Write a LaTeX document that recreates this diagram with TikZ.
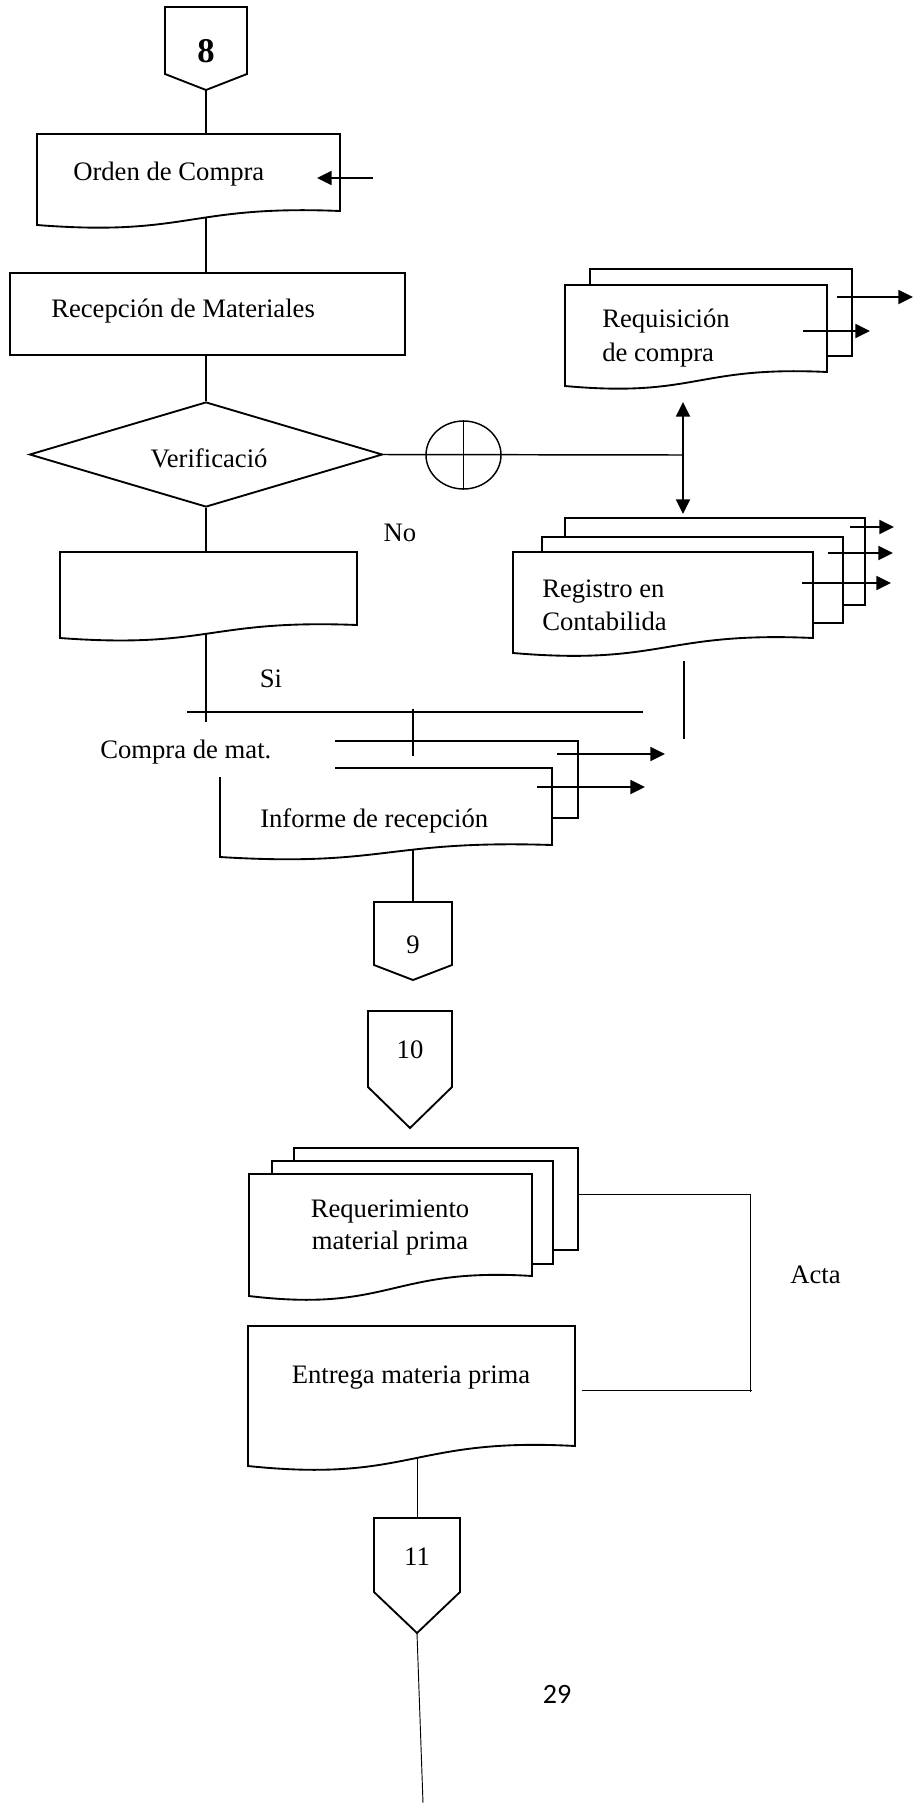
\documentclass[tikz,border=0pt]{standalone}
\usepackage{fontspec}
\setmainfont{Liberation Serif}
\newfontfamily\pagefont{Carlito}
\usetikzlibrary{positioning,fit,arrows.meta,backgrounds,shapes.geometric}

% document sheet with a wavy bottom: name, left, top, right, right bottom, left bottom
\newcommand{\docu}[6]{%
  \draw[shapeline,fill=white] (#2,#6) -- (#2,#3) -- (#4,#3) -- (#4,#5)
    .. controls ({(#2+#4)/2},{#5-0.45*(#6-#5)}) and ({(#2+#4)/2},{#6+0.85*(#6-#5)}) .. (#2,#6) -- cycle;
  \node[fit={(#2,#3) (#4,#5)},inner sep=0pt] (#1) {};
}
% off-page connector: name, left, right, top, side, tip, baseline, text
\newcommand{\offpage}[8]{%
  \draw[shapeline,fill=white] (#2,#4) -- (#3,#4) -- (#3,#5) -- ({(#2+#3)/2},#6) -- (#2,#5) -- cycle;
  \node[fit={(#2,#4) (#3,#6)},inner sep=0pt] (#1) {};
  \node[lbl,anchor=base] (#1t) at ({(#2+#3)/2},#7) {#8};
}

\begin{document}
\begin{tikzpicture}[x=0.75pt,y=-0.75pt,
		shapeline/.style={draw=black,line width=1.4pt},
		flow/.style={line width=1.4pt},
		thinline/.style={line width=0.7pt},
		arr/.style={line width=1.4pt,-{Triangle[length=11pt,width=10.5pt]}},
		twoarr/.style={line width=1.4pt,{Triangle[length=11pt,width=10.5pt]}-{Triangle[length=11pt,width=10.5pt]}},
		lbl/.style={inner sep=0pt,font=\fontsize{20}{25}\selectfont}]
	\useasboundingbox (0,0) rectangle (913,1803);

	% first sheet
	\offpage{p8}{165}{247}{7}{74}{90}{62}{\fontsize{26}{30}\selectfont\bfseries 8}

	\docu{orden}{37}{134}{340}{211}{225}
	\node[lbl,anchor=base west] (ordent) at (73,180) {Orden de Compra};
	\coordinate (ordenin) at (373,178);
	\coordinate (ordentip) at (317,178);
	\draw[arr] (ordenin) -- (ordentip);

	\node[shapeline,fit={(10,273) (405,355)},inner sep=0pt] (recep) {};
	\node[lbl,anchor=base west] (recept) at (51,317) {Recepción de Materiales};

	\node[shapeline,fill=white,diamond,aspect=3.36,minimum width=353*0.75pt,minimum height=105*0.75pt,inner sep=0pt] (verif) at (206,454.5) {};
	\node[lbl,anchor=base] (veriftxt) at (209,467) {Verificació};

	\node[draw,line width=1.1pt,ellipse,minimum width=75*0.75pt,minimum height=68*0.75pt,inner sep=0pt] (cruce) at (463.5,455) {};
	\draw[line width=1.1pt] (cruce.north) -- (cruce.south);
	\coordinate (junc) at (683,455);
	\coordinate (jup) at (683,402);
	\coordinate (jdown) at (683,514);
	\draw[line width=1.1pt] (verif.east) -- (junc);
	\draw[twoarr] (jup) -- (jdown);

	% requisicion
	\draw[shapeline] (590,285) -- (590,269) -- (852,269) -- (852,356) -- (827,356);
	\docu{requis}{565}{285}{827}{372}{386}
	\node[lbl,anchor=base west] (requist) at (602,327) {Requisición};
	\node[lbl,anchor=base west] (requist2) at (602,361) {de compra};
	\coordinate (rqa) at (837,297);
	\coordinate (rqb) at (913,297);
	\coordinate (rqc) at (803,331);
	\coordinate (rqd) at (870,331);
	\draw[arr] (rqa) -- (rqb);
	\draw[arr] (rqc) -- (rqd);

	% registro
	\draw[shapeline] (565,537) -- (565,518) -- (865,518) -- (865,605) -- (843,605);
	\draw[shapeline] (542,552) -- (542,537) -- (843,537) -- (843,623) -- (813,623);
	\docu{regis}{513}{552}{813}{638}{653}
	\node[lbl,anchor=base west] (regist) at (542,597) {Registro en};
	\node[lbl,anchor=base west] (regist2) at (542,630) {Contabilida};
	\coordinate (rga) at (850,527);
	\coordinate (rgb) at (894,527);
	\coordinate (rgc) at (828,553);
	\coordinate (rgd) at (893,553);
	\coordinate (rge) at (802,583);
	\coordinate (rgf) at (891,583);
	\draw[arr] (rga) -- (rgb);
	\draw[arr] (rgc) -- (rgd);
	\draw[arr] (rge) -- (rgf);
	\coordinate (rgtop) at (684,661);
	\coordinate (rgbot) at (684,739);
	\draw[line width=1.1pt] (rgtop) -- (rgbot);

	\node[lbl,anchor=base] (no) at (400,541) {No};
	\node[lbl,anchor=base] (si) at (271,687) {Si};

	\docu{vacio}{60}{552}{357}{625}{638}
	\coordinate (sifin) at (206,722);
	\coordinate (barl) at (187,712);
	\coordinate (barr) at (643,712);
	\draw[flow] (barl) -- (barr);
	\coordinate (bara) at (413,709);
	\coordinate (barb) at (413,756);
	\draw[flow] (bara) -- (barb);

	% informe
	\draw[shapeline] (335,741) -- (578,741) -- (578,818) -- (552,818);
	\draw[shapeline,fill=white] (335,768) -- (552,768) -- (552,845)
		.. controls (386,839.6) and (386,867.2) .. (220,857) -- (220,777);
	\node[fit={(220,768) (552,845)},inner sep=0pt] (inform) {};
	\node[lbl,anchor=base west] (compra) at (100,758) {Compra de mat.};
	\node[lbl,anchor=base west] (informt) at (260,827) {Informe de recepción};
	\coordinate (ifa) at (557,754);
	\coordinate (ifb) at (665,754);
	\coordinate (ifc) at (537,787);
	\coordinate (ifd) at (645,787);
	\draw[arr] (ifa) -- (ifb);
	\draw[arr] (ifc) -- (ifd);

	\offpage{p9}{374}{452}{902}{965}{980}{953}{9}

	% second sheet
	\offpage{p10}{368}{452}{1011}{1087}{1128}{1058}{10}

	\draw[shapeline] (294,1161) -- (294,1148) -- (578,1148) -- (578,1250) -- (553,1250);
	\draw[shapeline] (272,1174) -- (272,1161) -- (553,1161) -- (553,1264) -- (532,1264);
	\docu{reqm}{249}{1174}{532}{1276}{1296}
	\node[lbl,anchor=base] (reqmt) at (390,1217) {Requerimiento};
	\node[lbl,anchor=base] (reqmt2) at (390,1249) {material prima};

	\docu{entr}{248}{1326}{575}{1446}{1466}
	\node[lbl,anchor=base] (entrt) at (411,1383) {Entrega materia prima};

	\coordinate (actaa) at (578,1194);
	\coordinate (actab) at (750,1194);
	\coordinate (actac) at (750,1392);
	\coordinate (actad) at (582,1390);
	\coordinate (actae) at (752,1390);
	\draw[thinline] (actaa) -- (actab) -- (actac);
	\draw[thinline] (actad) -- (actae);
	\node[lbl,anchor=base west] (acta) at (790,1283) {Acta};

	\offpage{p11}{374}{460}{1518}{1592}{1633}{1565}{11}
	\coordinate (fin) at (423,1803);
	\draw[thinline] (p11.south) -- (fin);

	\node[anchor=base,inner sep=0pt,font=\pagefont\fontsize{21}{25}\selectfont] (pagina) at (557,1703) {29};

	% stems
	\begin{scope}[on background layer]
		\draw[flow] (p8.south) -- (p8.south |- orden.north);
		\draw[flow] (orden.south -| p8.south) -- (p8.south |- recep.north);
		\draw[flow] (recep.south -| p8.south) -- (verif.north);
		\draw[flow] (verif.south) -- (verif.south |- vacio.north);
		\draw[flow] (vacio.south -| verif.south) -- (sifin);
		\draw[flow] (inform.south -| p9.north) -- (p9.north);
		\draw[thinline] (entr.south -| p11.north) -- (p11.north);
	\end{scope}
\end{tikzpicture}
\end{document}
